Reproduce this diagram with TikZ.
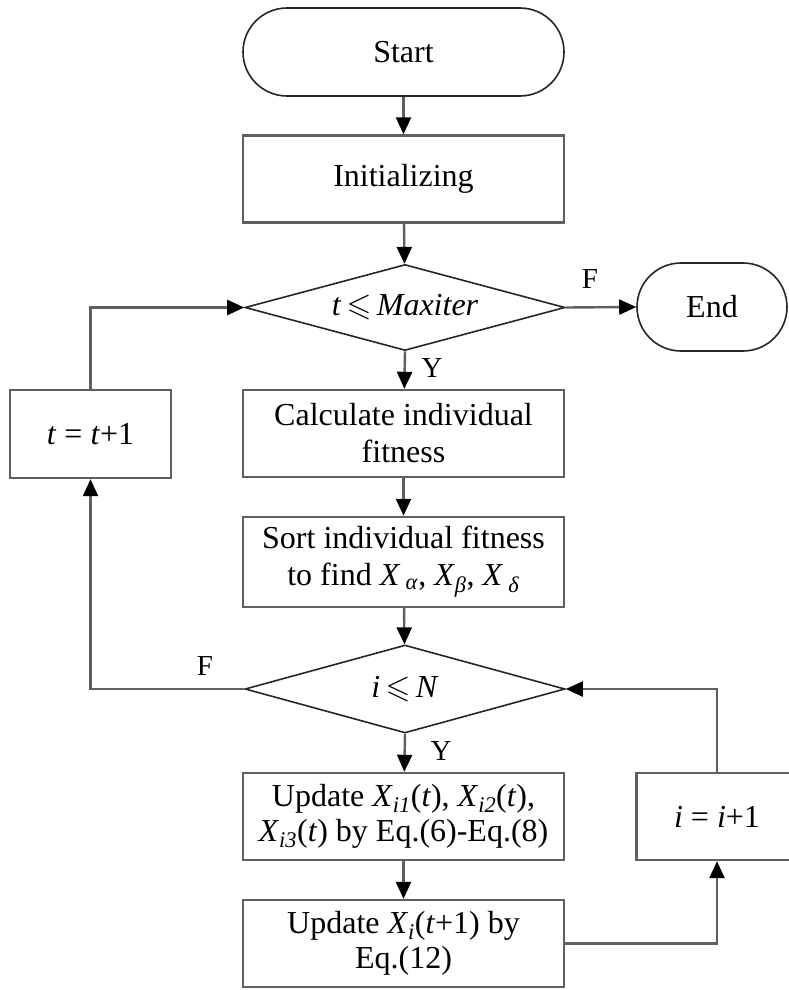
\documentclass[tikz,border=0pt]{standalone}
\usepackage{amssymb}
\usepackage{fontspec}
\setmainfont{Liberation Serif}
\usetikzlibrary{shapes.geometric,arrows.meta,calc}
\definecolor{edge}{RGB}{95,95,95}
\tikzset{
  every node/.style={font=\fontsize{32}{37}\selectfont, align=center},
  procbox/.style={draw=edge, line width=2.4pt, fill=white, rectangle,
    minimum width=321pt, minimum height=87pt, inner sep=2pt},
  smallbox/.style={procbox, minimum width=161pt},
  termbox/.style={draw=black!85, line width=1.6pt, rectangle, rounded corners=44pt,
    minimum height=88pt, inner sep=2pt},
  decision/.style={draw=black!85, line width=1.6pt, diamond, aspect=3.7,
    minimum width=320pt, minimum height=86pt, inner sep=0pt},
  flow/.style={draw=edge, line width=2.4pt, -{Triangle[length=17pt,width=15pt]}, arrows={[color=black]}},
  tag/.style={font=\fontsize{29}{33}\selectfont, inner sep=0pt}
}
\begin{document}
\begin{tikzpicture}[x=1pt,y=-1pt]
  \useasboundingbox (0,0) rectangle (788,990);

  % main column
  \node[termbox, minimum width=321pt] (start) at (403.5,52) {Start};
  \node[procbox] (init) at (403.5,179) {Initializing};
  \node[decision] (d1) at (405,307.5) {\textit{t}\,$\leqslant$\,\textit{Maxiter}};
  \node[termbox, minimum width=150pt] (stop) at (712,307) {End};
  \node[procbox] (calc) at (403.5,433.5) {Calculate individual\\fitness};
  \node[procbox, minimum height=90pt] (sort) at (403.5,562)
    {Sort individual fitness\\to find \textit{X}\,\textsubscript{\textit{α}}, \textit{X}\textsubscript{\textit{β}}, \textit{X}\,\textsubscript{\textit{δ}}};
  \node[decision, minimum height=88pt] (d2) at (405,689) {\textit{i}\,$\leqslant$\,\textit{N}};
  \node[procbox] (up1) at (403.5,816.5)
    {Update \textit{X}\textsubscript{\textit{i1}}(\textit{t}), \textit{X}\textsubscript{\textit{i2}}(\textit{t}),\\[-2pt]\textit{X}\textsubscript{\textit{i3}}(\textit{t}) by Eq.(6)-Eq.(8)};
  \node[procbox] (up2) at (403.5,943.5)
    {Update \textit{X}\textsubscript{\textit{i}}(\textit{t}+1) by\\[-2pt]Eq.(12)};

  % counters
  \node[smallbox] (inci) at (717,816.5) {\textit{i} = \textit{i}+1};
  \node[smallbox, minimum height=88pt] (inct) at (90.5,434) {\textit{t} = \textit{t}+1};

  % connectors
  \draw[flow] (start) -- (init);
  \draw[flow] (init) -- (d1);
  \draw[flow] (d1.east) -- (stop.west);
  \draw[flow] (d1.south) -- (calc);
  \draw[flow] (calc) -- (sort);
  \draw[flow] (sort) -- (d2);
  \draw[flow] (d2.south) -- (up1);
  \draw[flow] (up1) -- (up2);
  \draw[flow] (up2.east) -| (inci.south);
  \draw[flow] (inci.north) |- (d2.east);
  \draw[flow] (d2.west) -| (inct.south);
  \draw[flow] (inct.north) |- (d1.west);

  % branch labels
  \node[tag] (f1) at (590,279) {F};
  \node[tag] (y1) at (432,368) {Y};
  \node[tag] (f2) at (205,666) {F};
  \node[tag] (y2) at (441,751) {Y};
\end{tikzpicture}
\end{document}
